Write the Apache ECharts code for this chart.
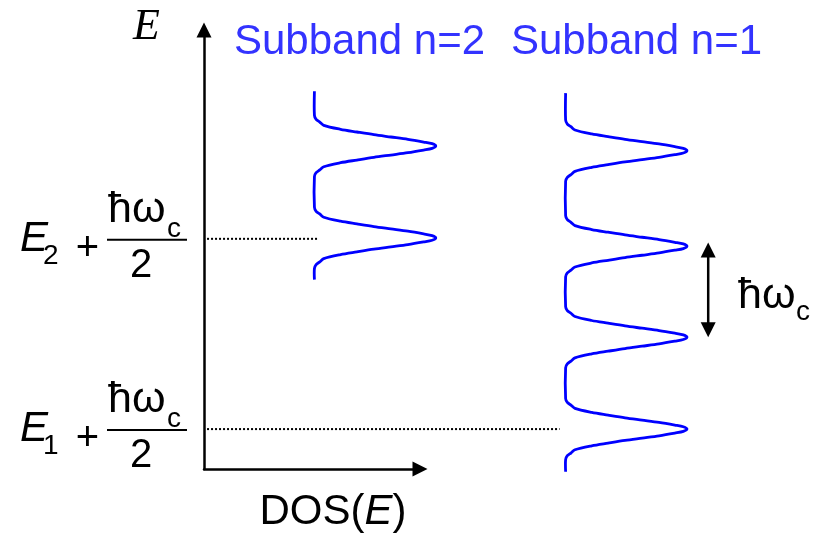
<!DOCTYPE html>
<html><head><meta charset="utf-8">
<script src="https://cdn.jsdelivr.net/npm/echarts@6/dist/echarts.min.js"></script>
<style>html,body{margin:0;padding:0;background:#fff}#c{width:826px;height:538px}</style>
</head><body><div id="c"></div>
<script>
// ---------- data (energy E in units of ħωc with E1 = 0; DOS in units of one Landau-peak height) ----------
const subbandNames = ['Subband n=2', 'Subband n=1'];
const n2Peaks = [2.56, 3.55];            // Landau-level centres, subband n=2
const n1Peaks = [0.50, 1.49, 2.47, 3.50]; // Landau-level centres, subband n=1
const n2Base = 0.91;                       // DOS offset of the n=2 curve
const n1Base = 2.98;                       // DOS offset of the n=1 curve
const n2Range = [2.11, 4.14];              // energy extent of the n=2 curve
const n1Range = [0.04, 4.12];              // energy extent of the n=1 curve
// one broadened Landau peak: energy offset from centre, DOS fraction
const peakOffsets = [0.330, 0.287, 0.258, 0.223, 0.180, 0.151, 0.122, 0.097, 0.072, 0.043, 0.025, 0];
const peakShape   = [0.000, 0.014, 0.044, 0.077, 0.215, 0.350, 0.490, 0.630, 0.770, 0.900, 0.970, 1.0];
const levelSubs = ['1', '2'];              // E1 + ħωc/2 , E2 + ħωc/2
const levelEnergies = [0.50, 2.55];
const levelLineStart = 0.025;
const levelLineEnds = [2.93, 0.94];
const spacingArrowE = [1.49, 2.51];        // ħωc double arrow
const spacingArrowDos = 4.155;
const eAxisRange = [0.07, 4.80];
const dosAxisRange = [0, 1.78];

// ---------- build ----------
function buildCurve(base, peaks, range) {
  const pts = [[base, range[0]]];
  peaks.forEach(function (p) {
    for (let i = 0; i < peakOffsets.length; i++) pts.push([base + peakShape[i], p - peakOffsets[i]]);
    for (let i = peakOffsets.length - 2; i >= 0; i--) pts.push([base + peakShape[i], p + peakOffsets[i]]);
  });
  pts.push([base, range[1]]);
  return pts;
}

const chart = echarts.init(document.getElementById('c'), null, {renderer: 'canvas'});
const SANS = '"Liberation Sans", Arial, Helvetica, sans-serif';
const SERIF = '"Liberation Serif", "Times New Roman", serif';
const CURVE = '#0000FF';
const TEXTBLUE = '#3333FF';

const axisCommon = {
  type: 'value',
  axisTick: {show: false}, axisLabel: {show: false}, splitLine: {show: false},
  axisLine: {show: true, onZero: false, symbol: ['none', 'triangle'], symbolSize: [15, 15],
             lineStyle: {color: '#000', width: 2.5}}
};

// polyline drawn through the axes' scales (custom series so it may extend past the axis arrow)
function polylineSeries(points, style, name, smooth) {
  return {type: 'custom', name: name, clip: false, silent: true,
    data: points,
    renderItem: function (params, api) {
      if (params.dataIndex !== 0) return null;
      return {type: 'polyline', shape: {points: points.map(function (p) { return api.coord(p); }), smooth: smooth || 0},
              style: Object.assign({fill: null}, style)};
    }};
}

const option = {
  animation: false,
  backgroundColor: '#fff',
  grid: {left: 204, top: 30, right: 406, bottom: 68, containLabel: false},
  xAxis: Object.assign({}, axisCommon, {
    min: dosAxisRange[0], max: dosAxisRange[1],
    name: '{n|DOS(}{i|E}{n|)}', nameLocation: 'middle', nameGap: 22,
    nameTextStyle: {padding: [0, 0, 0, 42], rich: {
      n: {fontFamily: SANS, fontSize: 42, color: '#000'},
      i: {fontFamily: SANS, fontSize: 42, fontStyle: 'italic', color: '#000'}}}
  }),
  yAxis: Object.assign({}, axisCommon, {
    min: eAxisRange[0], max: eAxisRange[1],
    name: 'E', nameLocation: 'end', nameGap: 3,
    nameTextStyle: {fontFamily: SERIF, fontStyle: 'italic', fontSize: 44, color: '#000',
                    align: 'right', verticalAlign: 'middle', padding: [0, 44, 0, 0]}
  }),
  series: [
    polylineSeries(buildCurve(n2Base, n2Peaks, n2Range), {stroke: CURVE, lineWidth: 2.8, lineJoin: 'round'}, subbandNames[0], 0.3),
    polylineSeries(buildCurve(n1Base, n1Peaks, n1Range), {stroke: CURVE, lineWidth: 2.8, lineJoin: 'round'}, subbandNames[1], 0.3),
    polylineSeries([[levelLineStart, levelEnergies[0]], [levelLineEnds[0], levelEnergies[0]]], {stroke: '#000', lineWidth: 2, lineDash: [2, 2]}),
    polylineSeries([[levelLineStart, levelEnergies[1]], [levelLineEnds[1], levelEnergies[1]]], {stroke: '#000', lineWidth: 2, lineDash: [2, 2]}),
    {type: 'custom', clip: false, silent: true, data: [[spacingArrowDos, spacingArrowE[0], spacingArrowE[1]]],
     renderItem: function (params, api) {
       const lo = api.coord([api.value(0), api.value(1)]);
       const hi = api.coord([api.value(0), api.value(2)]);
       const hw = 7.5, hl = 15;
       return {type: 'group', children: [
         {type: 'line', shape: {x1: lo[0], y1: lo[1] - hl + 2, x2: hi[0], y2: hi[1] + hl - 2}, style: {stroke: '#000', lineWidth: 2.5}},
         {type: 'polygon', shape: {points: [[hi[0], hi[1]], [hi[0] - hw, hi[1] + hl], [hi[0] + hw, hi[1] + hl]]}, style: {fill: '#000'}},
         {type: 'polygon', shape: {points: [[lo[0], lo[1]], [lo[0] - hw, lo[1] - hl], [lo[0] + hw, lo[1] - hl]]}, style: {fill: '#000'}}
       ]};
     }}
  ]
};
chart.setOption(option);

// ---------- text labels ----------
function txt(str, x, baseline, fs, opt) {
  opt = opt || {};
  const fam = opt.family || SANS;
  const asc = opt.family === SERIF ? 0.3375 : 0.3465;
  return {type: 'text', x: x, y: baseline - asc * fs, silent: true, z: 10,
    style: {text: str, fill: opt.color || '#000', align: opt.align || 'left', verticalAlign: 'middle',
            font: (opt.italic ? 'italic ' : '') + fs + 'px ' + fam}};
}
const g = [];
g.push(txt(subbandNames[0], 234, 57, 42, {color: TEXTBLUE}));
g.push(txt(subbandNames[1], 511, 57, 42, {color: TEXTBLUE}));

levelEnergies.forEach(function (e, k) {
  const bar = chart.convertToPixel({gridIndex: 0}, [0, e])[1] + 1;
  g.push(txt('E', 20, bar + 14, 42, {italic: true}));
  g.push(txt(levelSubs[k], 43, bar + 26, 28));
  g.push(txt('+', 87.5, bar + 9 + 0.35 * 40, 40, {align: 'center'}));
  g.push(txt('ħω', 108, bar - 15, 43));
  g.push(txt('c', 167, bar - 1, 28));
  g.push({type: 'line', silent: true, shape: {x1: 107, y1: bar, x2: 187, y2: bar}, style: {stroke: '#000', lineWidth: 2}});
  g.push(txt('2', 141, bar + 40, 40, {align: 'center'}));
});
const mid = (chart.convertToPixel({gridIndex: 0}, [0, spacingArrowE[0]])[1] + chart.convertToPixel({gridIndex: 0}, [0, spacingArrowE[1]])[1]) / 2;
g.push(txt('ħω', 738, mid + 21, 43));
g.push(txt('c', 796, mid + 32, 28));
chart.setOption({graphic: g});
</script></body></html>
